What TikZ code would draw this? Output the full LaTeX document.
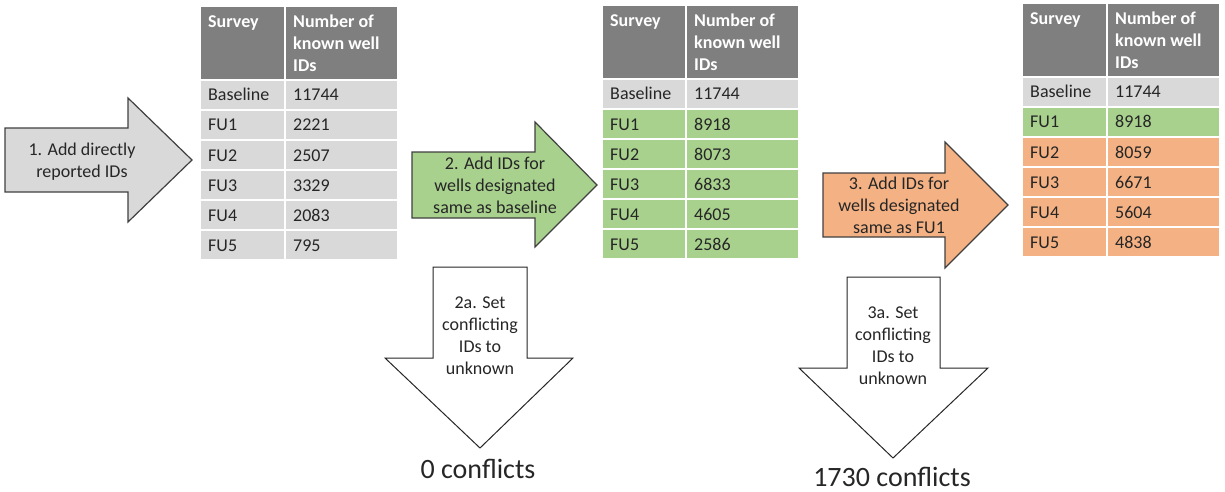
\documentclass[tikz,border=0pt]{standalone}
\usepackage{fontspec}
\setmainfont{Carlito}

\definecolor{headgray}{HTML}{7F7F7F}
\definecolor{rowgray}{HTML}{D9D9D9}
\definecolor{rowgreen}{HTML}{A9D18E}
\definecolor{roworange}{HTML}{F4B183}
\definecolor{inkgray}{HTML}{262626}

\tikzset{
  cell/.style={draw=white, line width=2pt},
  celltext/.style={anchor=base west, inner sep=0pt, text=inkgray, font=\fontsize{18}{22}\selectfont},
  headtext/.style={anchor=north west, inner sep=0pt, text=white, align=left, font=\bfseries\fontsize{18}{22}\selectfont},
  blockarrow/.style={draw=black!75, line width=1.2pt, line join=miter},
  downarrow/.style={draw=black!85, fill=white, line width=1pt, line join=miter},
  arrowtext/.style={align=center, inner sep=0pt, text=inkgray, font=\fontsize{18}{22}\selectfont},
  bigtext/.style={anchor=base, inner sep=0pt, text=inkgray, font=\fontsize{28}{34}\selectfont},
}

% table: name, left x, middle x, right x, top y, rows
\newcommand{\idtable}[6]{
  \filldraw[cell, fill=headgray] (#2,#5) rectangle (#3,#5+74);
  \filldraw[cell, fill=headgray] (#3,#5) rectangle (#4,#5+74);
  \node[headtext] (#1-hs) at (#2+8,#5+9) {Survey};
  \node[headtext] (#1-hn) at (#3+8,#5+9) {Number of\\known well\\IDs};
  \foreach \lab/\val/\col [count=\i] in {#6} {
    \filldraw[cell, fill=\col] (#2,#5+44+30*\i) rectangle (#3,#5+74+30*\i);
    \filldraw[cell, fill=\col] (#3,#5+44+30*\i) rectangle (#4,#5+74+30*\i);
    \node[celltext] (#1-l\i) at (#2+8,#5+65+30*\i) {\lab};
    \node[celltext] (#1-v\i) at (#3+8,#5+65+30*\i) {\val};
  }
}

\begin{document}
\begin{tikzpicture}[x=1pt, y=-1pt]
\useasboundingbox (0,0) rectangle (1225,492);

% tables
\idtable{ta}{200}{285}{398}{6}{Baseline/11744/rowgray, FU1/2221/rowgray, FU2/2507/rowgray, FU3/3329/rowgray, FU4/2083/rowgray, FU5/795/rowgray}
\idtable{tb}{602}{686}{799}{5}{Baseline/11744/rowgray, FU1/8918/rowgreen, FU2/8073/rowgreen, FU3/6833/rowgreen, FU4/4605/rowgreen, FU5/2586/rowgreen}
\idtable{tc}{1022}{1107}{1220}{3}{Baseline/11744/rowgray, FU1/8918/rowgreen, FU2/8059/roworange, FU3/6671/roworange, FU4/5604/roworange, FU5/4838/roworange}

% step 1
\filldraw[blockarrow, fill=rowgray] (5,128) -- (128,128) -- (128,98) -- (192,160)
  -- (128,222) -- (128,192) -- (5,192) -- cycle;
\node[arrowtext] (stepa) at (82,162) {1. Add directly\\reported IDs};

% step 2
\filldraw[blockarrow, fill=rowgreen] (412,152) -- (535,152) -- (535,122) -- (597,185)
  -- (535,247) -- (535,218) -- (412,218) -- cycle;
\node[arrowtext] (stepb) at (495,185) {2. Add IDs for\\wells designated\\same as baseline};

% step 3
\filldraw[blockarrow, fill=roworange] (823,173) -- (945,173) -- (945,142) -- (1008,205)
  -- (945,268) -- (945,237) -- (823,237) -- cycle;
\node[arrowtext] (stepc) at (899,205) {3. Add IDs for\\wells designated\\same as FU1};

% conflicts
\filldraw[downarrow] (433,267) -- (527,267) -- (527,358) -- (573,358) -- (480,448)
  -- (385,358) -- (433,358) -- cycle;
\node[arrowtext] (stepba) at (480,336) {2a. Set\\conflicting\\IDs to\\unknown};
\node[bigtext] (confb) at (478,478) {0 conflicts};

\filldraw[downarrow] (847,277) -- (940,277) -- (940,368) -- (988,368) -- (893,458)
  -- (799,368) -- (847,368) -- cycle;
\node[arrowtext] (stepca) at (893,346) {3a. Set\\conflicting\\IDs to\\unknown};
\node[bigtext] (confc) at (892,486) {1730 conflicts};

\end{tikzpicture}
\end{document}
